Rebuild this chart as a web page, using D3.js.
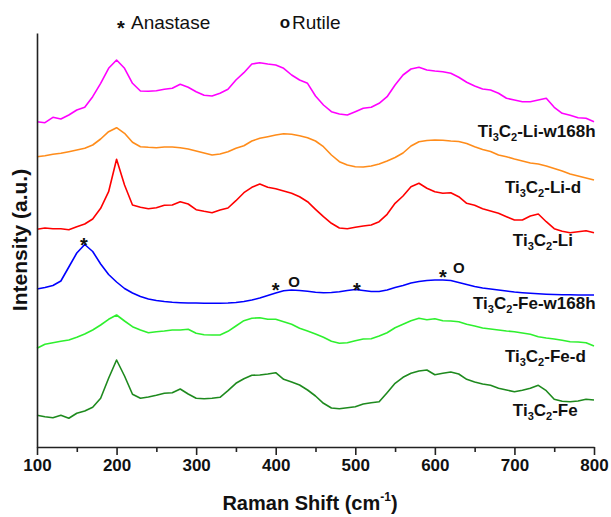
<!DOCTYPE html>
<html><head><meta charset="utf-8">
<script src="https://cdn.jsdelivr.net/npm/d3@7"></script>
<style>body{margin:0;background:#fff}svg{display:block}</style>
</head><body>
<svg id="chart" width="611" height="517"></svg>
<script>
// Raman shift grid (cm-1)
const ramanShift = d3.range(100, 801, 10);

// Intensities (a.u., stacked offsets as drawn)
const tiLiW168h = [325.3,324.3,329.7,328,332,337,339.7,350.3,363.7,378.7,387,378.7,363.7,356,355.7,356.3,357.7,358.7,362.7,359.7,355.3,351.7,351,353.7,357.7,367,374.3,383,384.3,383,382,378.7,372,367,363.7,351,342,335.3,333,332,335.3,338.7,339.7,343.7,350.3,362,372,378,379.7,377,376,375.3,373.7,369.7,364.7,361,358,357,353.7,348.7,347,345.3,345.3,347,348.7,339.7,333.7,331.7,329.3,328.7,325.3];
const tiLiD = [290.3,291.3,292.7,293.7,295.3,297,298.7,302,308,315.3,319.3,313.7,304.7,300.3,299.7,299.3,300,300,299.3,298,296,294,292,293,295.3,298.7,301.3,306,308.7,310.3,312,313.3,312.7,311.3,309.3,306,300.3,292,285.3,282,280.3,280,281,283,286,289.5,294,301,305.3,306.5,307,306.7,306,305.5,303.5,300.3,297.5,295.5,292,290.3,288,286,284,283,281,278.5,276,273,271,269,267];
const tiLi = [217.7,219,218.3,218.3,217.3,220.3,223,228,238.7,255.3,287.7,262,242,239.7,238.3,239.3,241.7,242,245.3,243,237.3,235.7,234.3,237,239,246.3,254.3,259.7,263,259.7,258.3,256,253.7,250.3,245.3,237.7,230.3,223.7,219,218.3,219.7,221,222,225.3,232.7,243.7,251,260.3,263.7,258.7,255.3,253.7,254.3,250.3,243.7,241.7,238.3,236,233.7,230.3,227,227,231,233,225.3,218.3,215.7,214.3,215.3,216.3,214.3];
const tiFeW168h = [158,159.5,161.5,166,180,194,202.5,195.5,183,172.5,165,158.5,154,150.5,148,146.5,145.5,144.7,144.3,144,144,143.8,143.7,143.8,144,144.5,145.5,147,149,151.5,154,156.2,157,156.5,155.7,154.8,154.2,154.5,155.2,156.5,157.5,156.5,155.5,155.5,157,159.5,161.5,164,165.5,166.5,167,167,166.5,164.5,162.5,160.5,159,158,157,156,155,154.3,153.7,153.2,152.8,152.5,152.3,152.2,152,152,152];
const tiFeD = [98.7,102.7,104.3,105.7,107,109.7,113,117,122,127.7,132,126,120.3,117,114.3,115.3,116,117,117,117.7,113.7,112.3,112,112,115.7,121,126.3,128.7,129.3,127.7,127.7,125.3,122.7,118.7,116,113,109.7,105.7,103.7,104.3,106.3,108,108.3,111,114.3,119.3,122.7,126.3,128.7,127.3,128.3,126.3,126,125.3,122.7,121,119,118,117,116,115.3,114,112.7,110.3,109,108,106.7,105.3,105,104.3,101];
const tiFe = [31.7,30.3,29.3,31.7,28.7,33.7,36,39.7,48.7,68.7,87,71,52.7,48.7,50,51.7,53.7,54.3,58,53,48.7,48.3,48.7,49.7,56.3,63.7,68.3,71.7,72,73,74.3,67.7,65,62,57,51,43.7,39,38.3,39.3,40.3,43,44.3,45.3,54.3,63.7,69.7,73.7,76,77,72.3,73.7,75,73,67.7,65,63,61.7,58.7,57,55.3,56.7,58.7,61.7,56.3,47.7,45.7,45.3,46,47.7,47];

const seriesNames = ["Li-w168h","Li-d","Li","Fe-w168h","Fe-d","Fe"];
const seriesValues = [tiLiW168h, tiLiD, tiLi, tiFeW168h, tiFeD, tiFe];
const xTicks = [100,200,300,400,500,600,700,800];
const xMinorTicks = [150,250,350,450,550,650,750];

// ---------- layout / style ----------
const colors = ["#ff00ff","#ff8c1a","#ff0000","#0000ff","#2ef02e","#1e8a1e"];
// label anchors in data space [shift, intensity of baseline]
const labelAnchors = [[654,310],[688,254],[698,201],[648,138],[688,85],[698,31]];
// peak annotations on the Fe-w168h curve: [symbol, shift, intensity of symbol centre]
const peakMarks = [["*",159,207],["*",400,162],["O",423,165.5],["*",502,162],["*",610,175],["O",630,179]];

const svg = d3.select("#chart");
const x = d3.scaleLinear().domain([100,800]).range([37,594]);
const y = d3.scaleLinear().domain([0,414]).range([447,33]);
const font = "'Liberation Sans', Arial, sans-serif";

// curves
const line = d3.line().x((d,i)=>x(ramanShift[i])).y(d=>y(d));
svg.append("g").selectAll("path").data(seriesValues).join("path")
  .attr("d", line).attr("fill","none")
  .attr("stroke",(d,i)=>colors[i]).attr("stroke-width",1.6)
  .attr("stroke-linejoin","round");

// axes
const xAxis = svg.append("g").attr("transform",`translate(0,${y(0)})`)
  .call(d3.axisBottom(x).tickValues(xTicks).tickSize(8).tickSizeOuter(0).tickPadding(4).tickFormat(d3.format("d")));
xAxis.select(".domain").attr("stroke","#222").attr("stroke-width",1.6);
xAxis.selectAll(".tick line").attr("stroke","#222").attr("stroke-width",1.6);
xAxis.selectAll(".tick text").attr("font-family",font).attr("font-weight","bold").attr("font-size",17).attr("fill","#111");
const xMinor = svg.append("g").attr("transform",`translate(0,${y(0)})`)
  .call(d3.axisBottom(x).tickValues(xMinorTicks).tickSize(5).tickFormat(""));
xMinor.select(".domain").remove();
xMinor.selectAll(".tick line").attr("stroke","#222").attr("stroke-width",1.6);

const yAxis = svg.append("g").attr("transform",`translate(${x(100)},0)`)
  .call(d3.axisLeft(y).tickValues([]).tickSizeOuter(0));
yAxis.select(".domain").attr("stroke","#222").attr("stroke-width",1.6);

// axis titles
const xt = svg.append("text").attr("x",310).attr("y",510).attr("text-anchor","middle")
  .attr("font-family",font).attr("font-weight","bold").attr("font-size",20).attr("fill","#111");
xt.append("tspan").text("Raman Shift (cm");
xt.append("tspan").attr("font-size",12).attr("dy",-9).text("-1");
xt.append("tspan").attr("dy",9).text(")");

svg.append("text").attr("transform","translate(27,240) rotate(-90)").attr("text-anchor","middle")
  .attr("font-family",font).attr("font-weight","bold").attr("font-size",21).attr("fill","#111")
  .text("Intensity (a.u.)");

// series labels
seriesNames.forEach((n,i)=>{
  const t = svg.append("text").attr("x",x(labelAnchors[i][0])).attr("y",y(labelAnchors[i][1]))
    .attr("font-family",font).attr("font-weight","bold").attr("font-size",17).attr("fill","#111");
  t.append("tspan").text("Ti");
  t.append("tspan").attr("font-size",11).attr("dy",4).text("3");
  t.append("tspan").attr("dy",-4).text("C");
  t.append("tspan").attr("font-size",11).attr("dy",4).text("2");
  t.append("tspan").attr("dy",-4).text("-" + n);
});

// peak annotations
peakMarks.forEach(([s,wn,v])=>{
  const fs = s==="*" ? 20 : 15;
  svg.append("text").attr("x",x(wn)).attr("y",y(v))
    .attr("dy", s==="*" ? "0.6em" : "0.36em")
    .attr("text-anchor","middle").attr("font-family",font).attr("font-weight","bold")
    .attr("font-size",fs).attr("fill","#111").text(s);
});

// legend
svg.append("text").attr("x",121).attr("y",22.5).attr("dy","0.6em").attr("text-anchor","middle")
  .attr("font-family",font).attr("font-weight","bold").attr("font-size",20).attr("fill","#111").text("*");
svg.append("text").attr("x",131).attr("y",29).attr("font-family",font).attr("font-size",19).attr("fill","#111").text("Anastase");
svg.append("text").attr("x",285).attr("y",27.5).attr("text-anchor","middle")
  .attr("font-family",font).attr("font-weight","bold").attr("font-size",17).attr("fill","#111").text("o");
svg.append("text").attr("x",292).attr("y",29).attr("font-family",font).attr("font-size",19).attr("fill","#111").text("Rutile");
</script>
</body></html>
